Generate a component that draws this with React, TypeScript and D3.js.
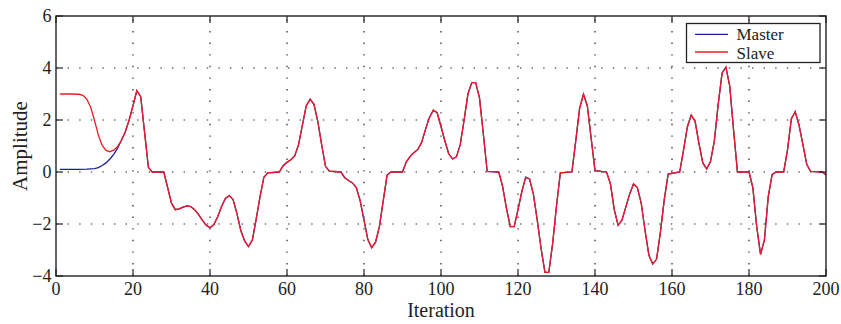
import React from "react";
import * as d3 from "d3";

const xTicks = [0, 20, 40, 60, 80, 100, 120, 140, 160, 180, 200];
const yTicks = [-4, -2, 0, 2, 4, 6];

const masterStart: [number, number][] = [
  [1, 0.1], [2, 0.1], [4, 0.1], [6, 0.1], [8, 0.11], [9, 0.12], [10, 0.13], [11, 0.17],
  [12, 0.25], [13, 0.35], [14, 0.5], [15, 0.68], [16, 0.92],
];

const slaveStart: [number, number][] = [
  [1, 3.0], [2, 3.0], [4, 3.0], [6, 2.99], [7, 2.95], [8, 2.8], [9, 2.5], [10, 1.98],
  [11, 1.42], [12, 1.02], [13, 0.83], [14, 0.78], [15, 0.84], [16, 0.98],
];

const common: [number, number][] = [
  [17, 1.22], [18, 1.55], [19, 2.0], [20, 2.55], [21, 3.13], [22, 2.9], [24, 0.18], [25, 0],
  [28, 0], [30, -1.2], [31, -1.45], [32, -1.42], [33, -1.35], [34, -1.3], [35, -1.33],
  [36, -1.45], [37, -1.63], [38, -1.85], [39, -2.05], [40, -2.14], [41, -2.02], [42, -1.72],
  [43, -1.33], [44, -1.02], [45, -0.91], [46, -1.06], [47, -1.6], [48, -2.25], [49, -2.65],
  [50, -2.87], [51, -2.62], [52, -1.8], [53, -0.95], [54, -0.2], [55, -0.03], [58, 0],
  [59, 0.24], [60, 0.37], [61, 0.47], [62, 0.62], [63, 1.05], [64, 1.8], [65, 2.55],
  [66, 2.8], [67, 2.6], [68, 1.95], [69, 1.05], [70, 0.22], [71, 0.03], [74, 0],
  [75, -0.22], [76, -0.33], [77, -0.42], [78, -0.6], [79, -1.1], [80, -1.85], [81, -2.6],
  [82, -2.91], [83, -2.7], [84, -2.1], [85, -1.1], [86, -0.12], [87, 0], [90, 0],
  [91, 0.39], [92, 0.6], [93, 0.75], [94, 0.87], [95, 1.15], [96, 1.65], [97, 2.1],
  [98, 2.38], [99, 2.28], [100, 1.75], [101, 1.2], [102, 0.7], [103, 0.5], [104, 0.58],
  [105, 1.05], [106, 2.0], [107, 3.0], [108, 3.44], [109, 3.44], [110, 2.85], [111, 1.45],
  [112, 0.02], [115, 0], [116, -0.55], [117, -1.4], [118, -2.1], [119, -2.1], [120, -1.45],
  [121, -0.75], [122, -0.2], [123, -0.27], [124, -0.85], [125, -1.85], [126, -2.95],
  [127, -3.86], [128, -3.86], [129, -2.75], [130, -1.3], [131, -0.03], [134, 0],
  [135, 1.2], [136, 2.45], [137, 2.99], [138, 2.55], [139, 1.3], [140, 0.05], [143, 0],
  [144, -0.45], [145, -1.45], [146, -2.05], [147, -1.85], [148, -1.35], [149, -0.85],
  [150, -0.46], [151, -0.6], [152, -1.2], [153, -2.25], [154, -3.2], [155, -3.54],
  [156, -3.35], [157, -2.3], [158, -1.05], [159, -0.08], [162, 0], [163, 0.85],
  [164, 1.74], [165, 2.19], [166, 1.95], [167, 1.1], [168, 0.35], [169, 0.12], [170, 0.4],
  [171, 1.2], [172, 2.6], [173, 3.8], [174, 4.03], [175, 3.3], [176, 1.6], [177, 0],
  [180, 0], [181, -0.6], [182, -2.1], [183, -3.17], [184, -2.62], [185, -0.95],
  [186, -0.1], [187, 0], [189, 0], [190, 0.85], [191, 2.05], [192, 2.32], [193, 1.8],
  [194, 1.05], [195, 0.3], [196, 0.02], [199, 0], [200, -0.1],
];

const masterData = [...masterStart, ...common];
const slaveData = [...slaveStart, ...common];

const W = 841;
const H = 324;
const L = 56, R = 826, T = 16, B = 276;
const FONT = "'Liberation Serif', 'DejaVu Serif', serif";

export default function App() {
  const x = d3.scaleLinear().domain([0, 200]).range([L, R]);
  const y = d3.scaleLinear().domain([-4, 6]).range([B, T]);
  const gen = d3
    .line<[number, number]>()
    .x((d) => x(d[0]))
    .y((d) => y(d[1]))
    .curve(d3.curveLinear);
  const fmt = (v: number) => (v < 0 ? "\u2212" + Math.abs(v) : String(v));
  const dash = "1.4 10.2";
  return (
    <svg width={W} height={H} style={{ position: "absolute", left: 0, top: 0, background: "#fff" }}>
      <rect x={0} y={0} width={W} height={H} fill="#fff" />
      {xTicks.slice(1, -1).map((t) => (
        <line key={"gx" + t} x1={x(t)} x2={x(t)} y1={B} y2={T} stroke="#222" strokeWidth={1.2} strokeDasharray={dash} />
      ))}
      {yTicks.slice(1, -1).map((t) => (
        <line key={"gy" + t} x1={L} x2={R} y1={y(t)} y2={y(t)} stroke="#222" strokeWidth={1.2} strokeDasharray={dash} />
      ))}
      <path d={gen(masterData) || ""} fill="none" stroke="#1f1f9a" strokeWidth={1.3} />
      <path d={gen(slaveData) || ""} fill="none" stroke="#ee1c25" strokeWidth={1.3} />
      {xTicks.map((t) => (
        <g key={"tx" + t}>
          <line x1={x(t)} x2={x(t)} y1={B} y2={B - 7} stroke="#222" strokeWidth={1.2} />
          <line x1={x(t)} x2={x(t)} y1={T} y2={T + 7} stroke="#222" strokeWidth={1.2} />
          <text x={x(t)} y={295} textAnchor="middle" fontFamily={FONT} fontSize={18} fill="#222">
            {fmt(t)}
          </text>
        </g>
      ))}
      {yTicks.map((t) => (
        <g key={"ty" + t}>
          <line x1={L} x2={L + 7} y1={y(t)} y2={y(t)} stroke="#222" strokeWidth={1.2} />
          <line x1={R} x2={R - 7} y1={y(t)} y2={y(t)} stroke="#222" strokeWidth={1.2} />
          <text x={51.5} y={y(t) + 6} textAnchor="end" fontFamily={FONT} fontSize={18} fill="#222">
            {fmt(t)}
          </text>
        </g>
      ))}
      <rect x={L} y={T} width={R - L} height={B - T} fill="none" stroke="#222" strokeWidth={1.4} />
      <text x={(L + R) / 2} y={317} textAnchor="middle" fontFamily={FONT} fontSize={20} fill="#222">
        Iteration
      </text>
      <text
        transform={`translate(27,${(T + B) / 2}) rotate(-90)`}
        textAnchor="middle"
        fontFamily={FONT}
        fontSize={21}
        fill="#222"
      >
        Amplitude
      </text>
      <rect x={686.5} y={23.5} width={133.5} height={39} fill="#fff" stroke="#222" strokeWidth={1.3} />
      <line x1={695} x2={728} y1={34.3} y2={34.3} stroke="#1f1f9a" strokeWidth={1.3} />
      <line x1={695} x2={728} y1={52} y2={52} stroke="#ee1c25" strokeWidth={1.3} />
      <text x={736.5} y={40} fontFamily={FONT} fontSize={17} fill="#222">
        Master
      </text>
      <text x={736.5} y={58.5} fontFamily={FONT} fontSize={17} fill="#222">
        Slave
      </text>
    </svg>
  );
}
